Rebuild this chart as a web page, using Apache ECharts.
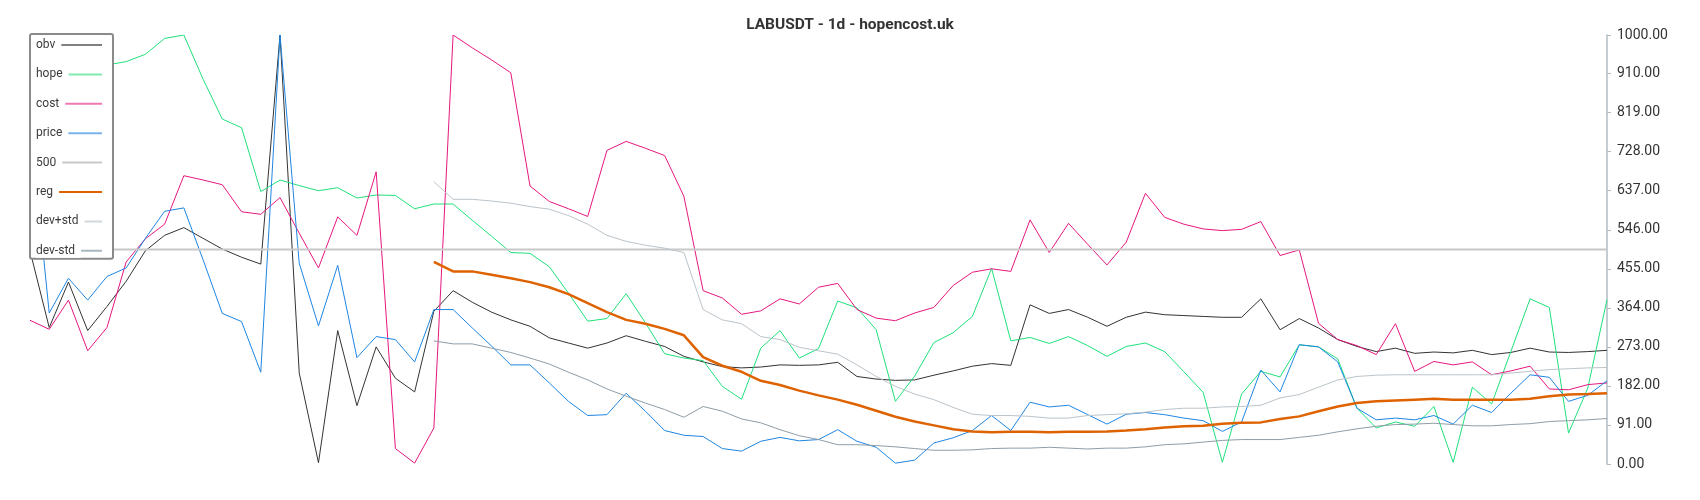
<!DOCTYPE html>
<html>
<head>
<meta charset="utf-8">
<script src="https://cdn.jsdelivr.net/npm/echarts@6/dist/echarts.min.js"></script>
<style>html,body{margin:0;padding:0;background:#fff;}#chart{width:1700px;height:500px;}</style>
</head>
<body>
<div id="chart"></div>
<script>
const titleText = 'LABUSDT - 1d - hopencost.uk';
const seriesNames = ['obv', 'hope', 'cost', 'price', '500', 'reg', 'dev+std', 'dev-std'];

const obv = [497,318,424,311,367,426,497,533,551,526,501,482,466,1000,212,3,311,136,273,200,168,
  356,404,377,354,336,321,294,282,270,282,299,286,274,251,238,227,224,226,231,230,
  231,237,204,198,195,196,207,217,228,234,230,371,351,360,342,321,342,354,348,346,
  344,342,342,385,313,339,317,290,274,262,270,258,261,259,265,255,260,270,261,260,262,265];

const hope = [890,900,915,920,930,938,955,992,1000,897,804,784,635,662,649,637,644,620,627,626,595,
  606,606,568,531,493,491,460,398,333,339,397,329,257,247,241,181,151,270,311,247,
  269,380,364,313,146,205,283,306,344,456,287,295,281,297,276,251,274,282,262,215,
  167,4,163,216,203,278,273,245,130,84,98,88,134,4,179,140,262,385,365,72,177,383];

const cost = [335,314,382,264,318,471,525,559,672,662,651,588,582,621,538,457,576,533,681,36,2,
  84,1000,970,942,912,648,612,595,577,731,752,736,719,624,404,387,349,357,385,373,
  412,421,360,340,334,352,365,416,447,455,449,569,493,561,512,464,517,631,575,559,
  548,544,547,565,486,499,328,290,276,255,327,216,239,231,238,208,217,228,175,173,185,189];

const price = [797,352,433,382,437,457,526,589,597,476,351,332,214,1000,468,322,463,248,297,290,238,
  360,360,317,275,231,231,189,146,113,115,165,123,78,67,64,36,30,53,62,54,
  57,80,53,39,2,9,49,61,78,113,78,144,133,137,115,93,116,120,115,107,
  101,76,98,219,168,278,273,238,130,103,107,103,113,93,137,120,165,208,202,146,160,194];

const level500 = 500;

const bandStart = 21; // first day with reg / dev values
const reg = [471,449,449,441,433,424,412,396,375,354,336,327,315,300,249,229,215,194,184,171,
  160,150,138,124,110,99,90,81,76,74,75,75,74,75,75,76,78,81,85,88,
  89,94,96,97,105,111,123,134,142,146,148,150,152,150,150,150,150,152,158,162,163,165];

const devPlus = [658,617,617,613,608,600,594,579,559,533,519,510,503,493,360,336,327,297,290,272,
  264,256,231,204,181,163,150,132,116,113,113,111,107,107,113,115,117,121,127,130,
  130,133,134,137,154,162,179,196,204,207,208,208,208,208,208,208,212,216,220,222,224,225];

const devMinus = [287,280,280,270,260,247,233,214,196,175,158,142,127,109,134,123,105,96,80,66,
  57,45,45,43,40,36,32,32,33,36,37,37,39,37,35,37,37,40,45,47,
  51,55,57,57,57,62,67,75,82,88,92,93,95,92,89,89,92,94,99,101,103,106];

const yTicks = { min: 0, max: 1000, interval: 91 };

const categories = obv.map((_, i) => String(i + 1));
const pad = arr => new Array(bandStart).fill(null).concat(arr);

const lineColors = {
  'obv': '#333333', 'hope': '#1fe07a', 'cost': '#e6177f', 'price': '#1e86e2',
  '500': '#c8c8c8', 'reg': '#de6200', 'dev+std': '#bcc4ca', 'dev-std': '#8f9da7'
};
const legendColors = {
  'obv': '#808080', 'hope': '#80ebb0', 'cost': '#ef78b2', 'price': '#7ab4ee',
  '500': '#c8c8c8', 'reg': '#de6200', 'dev+std': '#d0d8dc', 'dev-std': '#a9b6bd'
};

function mk(name, data, width, z) {
  return {
    name: name, type: 'line', data: data, symbol: 'none', showSymbol: false,
    connectNulls: false, z: z || 2,
    lineStyle: { color: lineColors[name], width: width },
    itemStyle: { color: lineColors[name] },
    emphasis: { disabled: true }
  };
}

const chart = echarts.init(document.getElementById('chart'), null, { renderer: 'canvas' });
chart.setOption({
  animation: false,
  backgroundColor: '#fff',
  textStyle: { fontFamily: 'Roboto' },
  title: {
    text: titleText, left: 'center', top: 12,
    textStyle: { fontFamily: 'Roboto', fontSize: 15.5, fontWeight: 'bold', color: '#333' }
  },
  legend: {
    orient: 'vertical', left: 30, top: 34, align: 'left',
    itemWidth: 66, itemHeight: 14, itemGap: 15.4,
    padding: [4, 10, 1, 5],
    backgroundColor: '#fff', borderColor: '#8a8a8a', borderWidth: 2, borderRadius: 2,
    itemStyle: { opacity: 0 },
    formatter: '{n|{name}}',
    textStyle: {
      fontFamily: 'Roboto', fontSize: 12, color: '#3a3a3a',
      padding: [0, 0, 0, -71],
      rich: { n: { fontFamily: 'Roboto', fontSize: 12, color: '#3a3a3a', backgroundColor: '#fff', padding: [0, 6, 0, 0], lineHeight: 14, height: 14 } }
    },
    data: seriesNames.map(n => ({ name: n, itemStyle: { opacity: 0 }, lineStyle: { color: legendColors[n], width: 2 } }))
  },
  grid: { left: 30, right: 93, top: 35, bottom: 36, containLabel: false },
  xAxis: {
    type: 'category', data: categories, boundaryGap: false, show: false
  },
  yAxis: {
    type: 'value', position: 'right', min: yTicks.min, max: yTicks.max, interval: yTicks.interval,
    axisLine: { show: true, lineStyle: { color: '#b0bcc3', width: 1.5 } },
    axisTick: { show: true, length: 4, lineStyle: { color: '#b0bcc3' } },
    splitLine: { show: false },
    axisLabel: { fontFamily: 'Roboto', fontSize: 14, color: '#333', margin: 10, formatter: v => v.toFixed(2) }
  },
  series: [
    mk('obv', obv, 1),
    mk('hope', hope, 1),
    mk('cost', cost, 1),
    mk('price', price, 1),
    mk('500', categories.map(() => level500), 2),
    mk('reg', pad(reg), 2.5, 3),
    mk('dev+std', pad(devPlus), 1),
    mk('dev-std', pad(devMinus), 1)
  ]
});
</script>
</body>
</html>
